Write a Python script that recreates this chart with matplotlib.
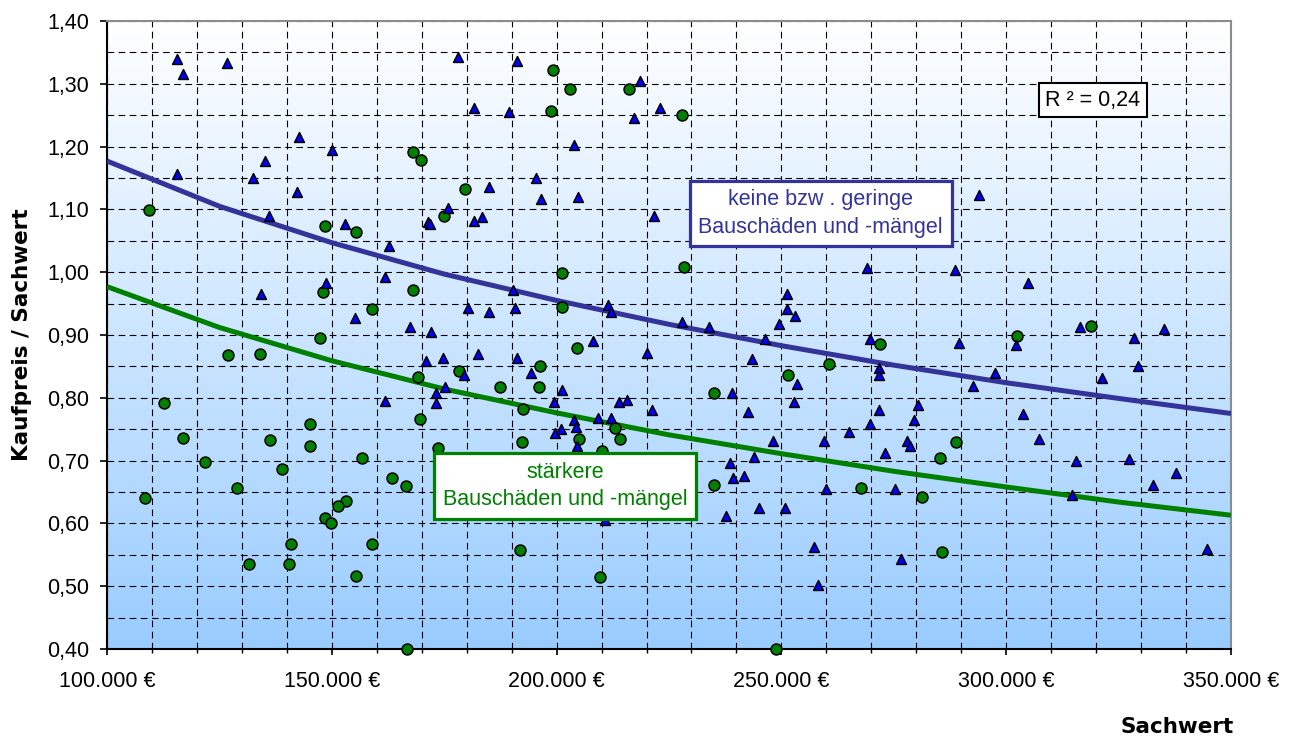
import numpy as np
import matplotlib
matplotlib.use("Agg")
import matplotlib.pyplot as plt
from matplotlib.ticker import MultipleLocator, FuncFormatter
from matplotlib.colors import LinearSegmentedColormap

plt.rcParams['font.family'] = ['Liberation Sans', 'DejaVu Sans']

# Sachwert in Tsd. Euro and ratio Kaufpreis / Sachwert
# -- keine bzw. geringe Bauschäden und -mängel (triangles)
gering_sachwert = [
    115.6, 116.9, 126.8, 142.7, 150.0, 115.6, 135.2, 132.5, 142.3, 136.0, 153.0, 162.7,
    178.1, 191.1, 181.7, 189.4, 184.9, 195.4, 196.6, 175.9, 171.4, 171.8, 181.6, 183.4,
    218.5, 217.3, 223.1, 203.9, 204.8, 221.7, 293.9,
    134.3, 148.7, 161.8, 155.2, 167.3, 172.1, 180.2, 184.9, 190.3, 190.8, 170.9, 174.7,
    182.5, 191.3, 179.3, 173.1, 175.1, 173.1, 161.8, 194.3,
    269.0, 288.6, 211.4, 212.1, 208.2, 220.2, 227.8, 233.9, 251.2, 251.2, 253.1, 249.5,
    246.4, 269.8, 289.5, 243.5, 271.6, 271.6, 253.4, 292.6, 201.2, 199.4, 213.8, 215.7,
    221.2, 239.0, 242.6, 252.7, 271.7, 280.4, 269.8, 279.5, 203.9, 204.3, 209.1, 212.0,
    199.6, 201.0, 204.5, 265.1, 259.5, 248.2, 278.0, 278.5, 273.0, 238.6, 243.9, 239.3,
    241.6, 260.0, 275.2,
    304.9, 302.1, 316.4, 328.5, 335.1, 329.4, 321.2, 297.4, 303.8, 307.3, 315.5, 327.4,
    337.7, 332.6, 314.6,
    237.6, 245.1, 250.9, 257.2, 258.2, 276.5, 344.7, 210.8,
]
gering_quote = [
    1.339, 1.316, 1.333, 1.215, 1.195, 1.156, 1.177, 1.150, 1.127, 1.089, 1.077, 1.042,
    1.342, 1.336, 1.262, 1.255, 1.136, 1.150, 1.117, 1.103, 1.080, 1.076, 1.081, 1.088,
    1.304, 1.246, 1.262, 1.202, 1.120, 1.090, 1.123,
    0.966, 0.983, 0.993, 0.927, 0.912, 0.905, 0.943, 0.937, 0.972, 0.943, 0.859, 0.863,
    0.869, 0.863, 0.837, 0.808, 0.817, 0.792, 0.795, 0.839,
    1.006, 1.003, 0.947, 0.936, 0.890, 0.872, 0.920, 0.912, 0.966, 0.941, 0.931, 0.918,
    0.893, 0.893, 0.887, 0.862, 0.847, 0.837, 0.822, 0.819, 0.812, 0.793, 0.793, 0.797,
    0.781, 0.808, 0.777, 0.793, 0.781, 0.788, 0.759, 0.765, 0.765, 0.753, 0.768, 0.768,
    0.744, 0.750, 0.723, 0.746, 0.731, 0.731, 0.731, 0.724, 0.712, 0.696, 0.706, 0.672,
    0.676, 0.654, 0.654,
    0.983, 0.884, 0.912, 0.896, 0.909, 0.850, 0.831, 0.839, 0.774, 0.734, 0.699, 0.703,
    0.681, 0.661, 0.645,
    0.612, 0.625, 0.625, 0.562, 0.502, 0.543, 0.559, 0.605,
]

# -- stärkere Bauschäden und -mängel (circles)
stark_sachwert = [
    109.3, 148.5, 155.4, 168.0, 169.8, 175.0, 179.6, 198.8, 199.2, 202.9, 216.0, 228.0,
    148.0, 168.0, 158.9, 147.3, 127.0, 134.1, 112.7, 178.4, 169.1, 187.4, 196.3, 196.0,
    192.6, 169.7, 116.8, 145.2, 136.2, 145.2, 192.3, 121.9, 138.9, 156.8, 163.4, 166.6,
    128.9, 108.4, 153.1, 173.6,
    151.4, 148.5, 149.9, 140.9, 158.9, 131.6, 140.4, 155.4, 191.9, 166.7,
    209.7, 248.9, 285.8,
    201.1, 228.4, 201.1, 204.6, 271.9, 260.6, 251.5, 235.1, 212.9, 205.0, 214.1, 210.0,
    288.8, 285.2, 235.1, 267.8, 281.3,
    302.3, 318.8,
]
stark_quote = [
    1.099, 1.073, 1.064, 1.191, 1.179, 1.089, 1.132, 1.257, 1.322, 1.292, 1.292, 1.250,
    0.968, 0.971, 0.941, 0.895, 0.868, 0.870, 0.792, 0.842, 0.833, 0.817, 0.850, 0.817,
    0.782, 0.767, 0.736, 0.758, 0.733, 0.723, 0.729, 0.698, 0.687, 0.704, 0.673, 0.660,
    0.657, 0.640, 0.636, 0.720,
    0.627, 0.608, 0.601, 0.567, 0.567, 0.536, 0.536, 0.517, 0.557, 0.400,
    0.514, 0.400, 0.555,
    0.999, 1.009, 0.945, 0.879, 0.886, 0.854, 0.836, 0.807, 0.752, 0.734, 0.734, 0.716,
    0.730, 0.704, 0.661, 0.656, 0.642,
    0.899, 0.914,
]

# Trend lines (Tsd. Euro)
trend_sachwert = [100, 125, 150, 175, 200, 225, 250, 275, 300, 325, 350]
trend_gering = [1.177, 1.105, 1.047, 0.997, 0.955, 0.917, 0.883, 0.852, 0.824, 0.799, 0.775]
trend_stark = [0.977, 0.912, 0.859, 0.814, 0.776, 0.741, 0.711, 0.683, 0.658, 0.634, 0.613]

r_squared = "R ² = 0,24"
label_gering = "keine bzw . geringe\nBauschäden und -mängel"
label_stark = "stärkere\nBauschäden und -mängel"

BLUE_LINE = "#333399"
GREEN = "#008000"
TRI_FACE = "#0000FF"
FS = 15.5
BOLD_FAMILY = ['DejaVu Sans']

W, H = 1298, 740
fig = plt.figure(figsize=(W / 100, H / 100), dpi=100)
ax = fig.add_axes([107 / W, 91 / H, (1231 - 107) / W, (649 - 21) / H])

xmin, xmax, ymin, ymax = 100000, 350000, 0.40, 1.40

# white-to-blue vertical gradient background
cmap = LinearSegmentedColormap.from_list("bg", ["#FFFFFF", "#99CCFF"])
ax.imshow(np.linspace(0, 1, 256).reshape(-1, 1), extent=[xmin, xmax, ymin, ymax],
          aspect="auto", cmap=cmap, origin="upper", zorder=0, interpolation="bicubic")

ax.set_xlim(xmin, xmax)
ax.set_ylim(ymin, ymax)

ax.xaxis.set_major_locator(MultipleLocator(50000))
ax.xaxis.set_minor_locator(MultipleLocator(10000))
ax.yaxis.set_major_locator(MultipleLocator(0.1))
ax.yaxis.set_minor_locator(MultipleLocator(0.05))
ax.xaxis.set_major_formatter(FuncFormatter(lambda v, p: f"{int(round(v)):,}".replace(",", ".") + " €"))
ax.yaxis.set_major_formatter(FuncFormatter(lambda v, p: f"{v:.2f}".replace(".", ",")))

ax.set_axisbelow(True)
ax.grid(which="both", color="black", linestyle=(0, (6, 4)), linewidth=0.8)

ax.tick_params(axis="x", which="major", direction="out", length=4, width=1.2, pad=12, labelsize=FS)
ax.tick_params(axis="x", which="minor", direction="out", length=3, width=1.0)
ax.tick_params(axis="y", which="major", direction="out", length=5, width=1.2, pad=8, labelsize=FS)
ax.tick_params(axis="y", which="minor", length=0)

for side in ("left", "bottom"):
    ax.spines[side].set_color("black")
    ax.spines[side].set_linewidth(1.5)
for side in ("top", "right"):
    ax.spines[side].set_color("#8C8C8C")
    ax.spines[side].set_linewidth(1.5)

tx = np.array(trend_sachwert) * 1000
ax.plot(tx, trend_gering, color=BLUE_LINE, lw=3.6, zorder=3, solid_capstyle="butt")
ax.plot(tx, trend_stark, color=GREEN, lw=3.6, zorder=3, solid_capstyle="butt")

ax.scatter(np.array(stark_sachwert) * 1000, stark_quote, s=62, marker="o",
           facecolor=GREEN, edgecolor="black", linewidth=1.1, zorder=4, clip_on=False)
ax.scatter(np.array(gering_sachwert) * 1000, gering_quote, s=50, marker="^",
           facecolor=TRI_FACE, edgecolor="black", linewidth=1.1, zorder=5, clip_on=False)

ax.text(0.635, 0.6935, label_gering, transform=ax.transAxes, ha="center", va="center",
        fontsize=FS, color=BLUE_LINE, linespacing=1.4, zorder=6,
        bbox=dict(boxstyle="square,pad=0.4", facecolor="white", edgecolor=BLUE_LINE, linewidth=2.3))
ax.text(0.4075, 0.2596, label_stark, transform=ax.transAxes, ha="center", va="center",
        fontsize=FS, color=GREEN, linespacing=1.4, zorder=6,
        bbox=dict(boxstyle="square,pad=0.4", facecolor="white", edgecolor=GREEN, linewidth=2.3))
ax.text(0.8768, 0.874, r_squared, transform=ax.transAxes, ha="center", va="center",
        fontsize=FS, color="black", zorder=6,
        bbox=dict(boxstyle="square,pad=0.3", facecolor="white", edgecolor="black", linewidth=1.5))

fig.text(1177 / W, (H - 727) / H, "Sachwert", ha="center", va="center",
         fontsize=FS, fontweight="bold", family=BOLD_FAMILY)
fig.text(22 / W, (H - 335) / H, "Kaufpreis / Sachwert", ha="center", va="center",
         rotation=90, fontsize=FS, fontweight="bold", family=BOLD_FAMILY)

fig.savefig("out.png", dpi=100)
